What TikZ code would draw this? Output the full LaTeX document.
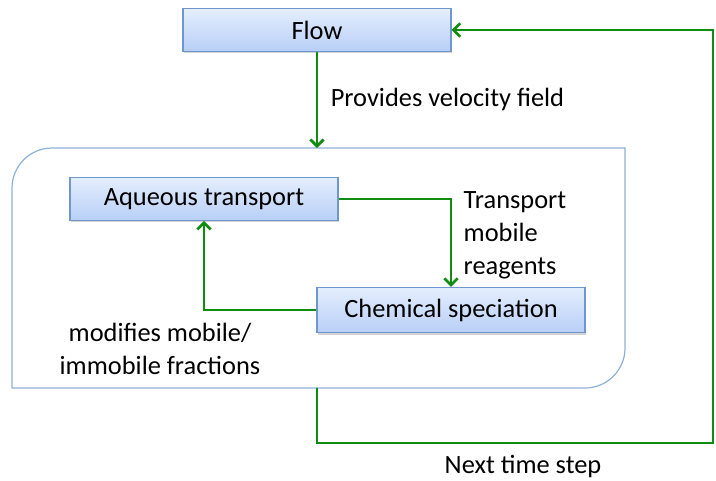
\documentclass[tikz,border=0pt]{standalone}
\usepackage{fontspec}
\setmainfont{Carlito}
\usetikzlibrary{arrows.meta,shadows}
\definecolor{flowgreen}{RGB}{16,140,16}
\definecolor{boxtop}{RGB}{228,238,253}
\definecolor{boxbot}{RGB}{184,207,247}
\definecolor{boxline}{RGB}{112,150,206}
\definecolor{frameline}{RGB}{140,176,216}
\begin{document}
\begin{tikzpicture}[x=0.75pt,y=-0.75pt,
 every node/.style={font=\fontsize{19.8}{24.7}\selectfont},
 stage/.style={rectangle,draw=boxline,line width=0.8pt,top color=boxtop,bottom color=boxbot,
  minimum width=201pt,minimum height=32pt,inner sep=0pt,
  drop shadow={shadow xshift=1pt,shadow yshift=-1.5pt,opacity=0.35}},
 link/.style={draw=flowgreen,line width=2pt,-{Straight Barb[length=5pt,width=10pt]}}]
\useasboundingbox (0,0) rectangle (716,480);
\draw[frameline,line width=0.9pt] (12,388) [rounded corners=30pt] -- (12,148) [sharp corners] -- (625,148)
 [rounded corners=30pt] -- (625,388) [sharp corners] -- cycle;
\node[stage] (flow) at (317,30) {Flow};
\node[stage] (aq) at (204,199) {Aqueous transport};
\node[stage,minimum height=34pt] (chem) at (451,310) {Chemical speciation};
\coordinate (ctop) at (317,148);
\coordinate (cbot) at (317,388);
\coordinate (loop) at (713,443);
\draw[link] (flow) -- node[right=6pt] {Provides velocity field} (ctop);
\draw[link] (aq.east) -| (chem.north);
\draw[link] (chem.west) -| (aq.south);
\draw[link] (cbot) |- (loop) |- (flow.east);
\node[anchor=north west,align=left] (mob) at (459,187) {Transport\\mobile\\reagents};
\node[align=center] (frac) at (160,349) {modifies mobile/\\immobile fractions};
\node (next) at (523,466) {Next time step};
\end{tikzpicture}
\end{document}
